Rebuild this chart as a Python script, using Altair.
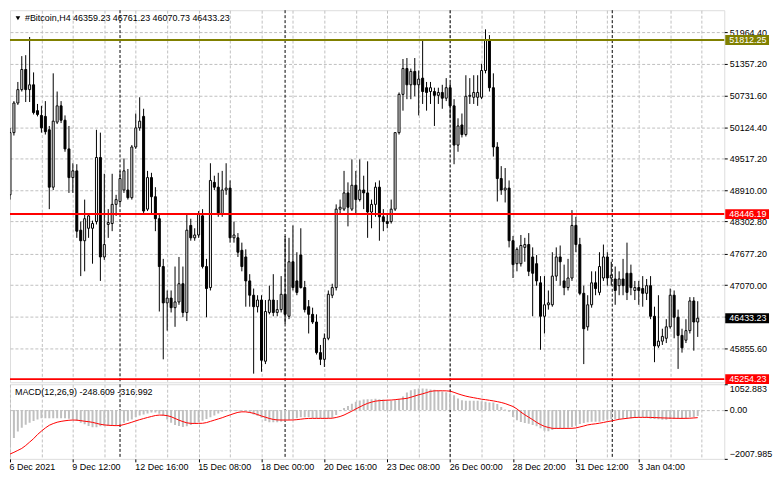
import altair as alt
import pandas as pd

# ---------------- data ----------------
opens = [
    48819, 50022, 50595, 50854, 51243, 50854, 50947, 50447, 50355, 50336,
    50077, 48967, 50225, 50540, 50262, 49707, 49152, 49282, 48135, 47931,
    48172, 48172, 48301, 49541, 47617, 48246, 48264, 48634, 48690, 48912,
    48912, 48764, 49744, 50114, 50336, 48542, 49152, 48782, 48357, 47432,
    46729, 46821, 46636, 46747, 47099, 46544, 48227, 47987, 48042, 48412,
    47432, 47025, 49060, 48967, 48449, 48912, 48949, 47987, 47987, 47746,
    47617, 47154, 46877, 46655, 46784, 45600, 46544, 46784, 46544, 46599,
    46895, 46470, 47524, 47154, 47654, 47025, 46655, 46507, 46359, 45767,
    45637, 46044, 46877, 47025, 48542, 48542, 48856, 48542, 49004, 48727,
    48912, 48856, 48486, 48634, 48967, 48394, 48301, 48301, 48542, 50022,
    50762, 51261, 50947, 51206, 50947, 51076, 50891, 50817, 50817, 50743,
    50799, 50688, 50891, 50540, 49781, 50170, 49985, 50725, 50706, 50706,
    50706, 51224, 51816, 50891, 49744, 49134, 48912, 48949, 47931, 47487,
    47487, 47802, 47857, 47617, 47487, 47117, 46470, 46692, 46692, 47247,
    47617, 47154, 47025, 47210, 48227, 47857, 46914, 46266, 46692, 47117,
    46932, 47210, 47617, 47210, 47191, 47062, 47191, 47302, 47302, 46969,
    47025, 47006, 46914, 47062, 46470, 45896, 45989, 46044, 46266, 46877,
    46451, 46100, 46007, 46192, 46766, 46359.23,
]
highs = [
    50114, 50632, 51002, 51502, 51520, 51872, 51187, 50577, 50540, 50632,
    50151, 51169, 50817, 50632, 50355, 50151, 49430, 49411, 48301, 48727,
    48449, 48320, 50077, 50022, 49226, 48542, 49226, 48819, 49282, 49522,
    49319, 49781, 50392, 50706, 50484, 49282, 49245, 48967, 48449, 47580,
    46969, 46969, 47432, 47617, 47432, 48449, 48357, 48172, 48505, 48542,
    47580, 49430, 49189, 49245, 49282, 49430, 49097, 48301, 48079, 47894,
    47765, 47284, 47006, 46877, 46877, 46784, 47062, 47284, 46784, 47247,
    48024, 47987, 48227, 47709, 48172, 47154, 46784, 46636, 46507, 45915,
    46137, 46969, 47099, 48634, 48727, 49282, 49060, 49504, 49282, 49504,
    49189, 49467, 48727, 49060, 49097, 48542, 48449, 48727, 50022, 50799,
    51446, 51465, 51261, 51465, 51224, 51816, 51002, 51002, 50891, 50891,
    50947, 51076, 50984, 50669, 50299, 50392, 51132, 51076, 51132, 51132,
    51354, 52020, 51909, 51169, 49837, 49374, 49337, 49097, 48024, 47802,
    48042, 47987, 48079, 47802, 47654, 47247, 47247, 46969, 47709, 47802,
    47839, 47469, 47580, 48523, 48394, 47987, 47062, 46877, 47339, 47339,
    47709, 47857, 47709, 47524, 47432, 47339, 47580, 47894, 47469, 47154,
    47154, 47247, 47191, 47247, 46655, 46877, 46229, 46414, 47006, 46969,
    46599, 46229, 46414, 46840, 46840, 46761.23,
]
lows = [
    48727, 49966, 50558, 50817, 50614, 50614, 50373, 50336, 50022, 49985,
    48542, 48912, 50188, 50207, 49652, 48856, 48856, 47987, 47247, 47339,
    47987, 47487, 48246, 47154, 47561, 47987, 48116, 48412, 48634, 48856,
    48727, 48727, 49707, 50059, 48468, 48505, 48449, 48116, 46562, 45637,
    46192, 46544, 46266, 46692, 46451, 46377, 47931, 47931, 47987, 47395,
    46451, 46969, 48912, 48394, 48394, 48819, 47894, 47894, 47617, 47339,
    46655, 46655, 45360, 46544, 45397, 45545, 46507, 46470, 46470, 46544,
    46322, 46414, 46969, 46877, 47006, 46544, 46137, 46322, 45730, 45526,
    45489, 46007, 46821, 46969, 48449, 48505, 48209, 48505, 48449, 48690,
    48542, 47987, 48172, 48394, 47931, 48116, 48172, 48264, 48505, 49985,
    50447, 50669, 50669, 50725, 50355, 50577, 50447, 50577, 50151, 50577,
    50484, 50632, 50299, 49411, 49652, 49929, 49948, 50577, 50577, 50540,
    50669, 51169, 50817, 49559, 48690, 48819, 48671, 47802, 47210, 47339,
    47432, 47524, 47247, 46470, 47062, 45822, 46137, 46599, 46655, 47154,
    47062, 46877, 46969, 47154, 47709, 46877, 45545, 46192, 46636, 46877,
    46877, 47154, 47062, 47062, 46692, 46877, 46877, 46784, 46877, 46784,
    46692, 46655, 46784, 46414, 45582, 45859, 45915, 45952, 46229, 46044,
    45452, 45767, 45952, 46137, 45804, 46070.73,
]
closes = [
    50022, 50595, 50854, 51243, 50854, 50947, 50410, 50373, 50114, 50040,
    48967, 50244, 50540, 50262, 49707, 49152, 49282, 48116, 47931, 48357,
    48412, 48264, 49541, 47617, 47857, 48283, 48634, 48727, 49134, 49282,
    48764, 49744, 50114, 50244, 48505, 49152, 48782, 48357, 47432, 46729,
    46821, 46636, 46747, 47099, 46544, 48135, 47987, 48042, 48449, 47432,
    47006, 49097, 48967, 48449, 48912, 48949, 47987, 48042, 47709, 47432,
    47154, 46877, 46655, 46784, 45619, 46562, 46784, 46544, 46599, 46895,
    46507, 47524, 47025, 46932, 47025, 46599, 46507, 46359, 45767, 45637,
    46044, 46895, 47025, 48542, 48579, 48856, 48579, 49004, 48727, 48912,
    48856, 48486, 48634, 48967, 48394, 48301, 48264, 48542, 50022, 50762,
    51261, 50947, 51206, 50947, 51058, 50817, 50799, 50891, 50743, 50799,
    50688, 50891, 50540, 49781, 50151, 49985, 50725, 50743, 50799, 50799,
    51224, 51816, 50891, 49744, 49134, 48912, 48949, 47931, 47469, 47765,
    47839, 47857, 47339, 47302, 47154, 46470, 46692, 46729, 47247, 47617,
    47524, 47025, 47210, 48227, 47857, 46914, 46229, 46692, 47117, 47006,
    47432, 47617, 47210, 47265, 46969, 47191, 47062, 46932, 47025, 47025,
    46969, 46914, 47062, 46470, 45896, 45989, 46081, 46266, 46877, 46451,
    46100, 45859, 46192, 46766, 46359, 46433.23,
]
macd_main = [
    -1530, -1150, -890, -730, -605, -525, -455, -390, -347, -347,
    -347, -347, -347, -347, -347, -360, -390, -455, -525, -590,
    -660, -714, -714, -673, -646, -646, -646, -619, -590, -525,
    -455, -390, -290, -225, -185, -143, -102, -102, -156, -238,
    -390, -525, -619, -660, -700, -673, -619, -578, -510, -442,
    -374, -306, -225, -143, -75, -34, -20, -20, -20, -20,
    -48, -116, -184, -252, -320, -455, -510, -510, -510, -483,
    -442, -401, -374, -347, -306, -306, -306, -333, -347, -347,
    -360, -347, -320, -211, -20, 75, 156, 252, 333, 388,
    428, 442, 442, 456, 442, 430, 400, 380, 400, 442,
    551, 714, 809, 850, 877, 877, 864, 836, 823, 796,
    755, 728, 687, 605, 469, 401, 374, 374, 374, 374,
    360, 333, 306, 306, 238, 116, 20, -75, -292, -428,
    -496, -537, -564, -619, -673, -755, -850, -877, -823, -768,
    -755, -741, -728, -700, -646, -578, -537, -510, -483, -483,
    -483, -442, -401, -374, -374, -374, -347, -347, -347, -320,
    -306, -306, -333, -360, -374, -388, -401, -401, -374, -374,
    -347, -347, -347, -306, -306, -248.609,
]
macd_signal = [
    -1810, -1740, -1660, -1580, -1460, -1320, -1180, -1010, -870, -740,
    -630, -560, -505, -470, -445, -425, -415, -420, -440, -465,
    -483, -510, -550, -590, -615, -630, -640, -645, -640, -600,
    -555, -505, -450, -400, -355, -310, -270, -230, -212, -215,
    -235, -280, -350, -420, -480, -530, -552, -555, -552, -548,
    -520, -470, -420, -370, -320, -260, -205, -150, -100, -78,
    -80, -105, -140, -190, -250, -300, -350, -390, -410, -415,
    -415, -415, -412, -400, -380, -360, -350, -347, -347, -347,
    -347, -345, -340, -310, -270, -210, -130, -50, 40, 120,
    200, 270, 320, 360, 380, 390, 400, 405, 420, 440,
    455, 475, 520, 570, 620, 660, 710, 760, 782, 785,
    785, 782, 770, 720, 660, 610, 565, 530, 500, 470,
    440, 420, 395, 370, 340, 305, 260, 200, 140, 40,
    -90, -200, -300, -400, -510, -600, -675, -720, -755, -758,
    -758, -758, -757, -755, -740, -700, -660, -615, -590, -570,
    -545, -515, -480, -455, -420, -385, -365, -345, -325, -310,
    -306, -306, -306, -308, -315, -320, -328, -333, -338, -342,
    -347, -347, -345, -340, -330, -316.992,
]

price_ticks = [51964.40, 51357.20, 50731.60, 50124.40, 49517.20, 48910.00,
               48302.80, 47677.20, 47070.00, 46462.80, 45855.60]
macd_ticks = [1052.883, 0.0, -2007.985]
time_labels = ["6 Dec 2021", "9 Dec 12:00", "12 Dec 16:00", "15 Dec 08:00",
               "18 Dec 00:00", "20 Dec 16:00", "23 Dec 08:00", "26 Dec 00:00",
               "28 Dec 20:00", "31 Dec 12:00", "3 Jan 04:00"]
separator_bars = [28, 70, 112, 153.25]
level_prices = [51812.25, 48446.19, 45254.23]
level_colors = ["#808000", "#ff0000", "#ff0000"]
last_price = 46433.23
title_text = "#Bitcoin,H4  46359.23 46761.23 46070.73 46433.23"
macd_text = "MACD(12,26,9) -248.609 -316.992"

# ---------------- layout ----------------
W, H_MAIN, H_MACD = 718, 374, 75
FONT = "Liberation Sans"
FS = 9
GRID = "#c0c0c0"
X_DOMAIN = [0, 181.75]
Y_DOMAIN = [45193.5, 52390.0]
MACD_DOMAIN = [-2007.985, 1052.883]

n = len(closes)
bars = list(range(n))
candles = pd.DataFrame({"bar": bars, "open": opens, "high": highs,
                        "low": lows, "close": closes})
candles["body"] = ["white" if c >= o else "black" for o, c in zip(opens, closes)]
macd_df = pd.DataFrame({"bar": bars, "main": macd_main, "signal": macd_signal})
sep_df = pd.DataFrame({"bar": separator_bars})
levels_df = pd.DataFrame({"price": level_prices, "color": level_colors})
boxes_df = pd.DataFrame({
    "price": level_prices + [last_price],
    "color": level_colors + ["#000000"],
    "label": [f"{p:.2f}" for p in level_prices + [last_price]],
})
last_df = pd.DataFrame({"price": [last_price]})
text_df = pd.DataFrame({"t": [title_text]})
macd_text_df = pd.DataFrame({"t": [macd_text]})

grid_bars = [8 * k for k in range(1, 23)]
xs = alt.Scale(domain=X_DOMAIN, nice=False, zero=False, padding=0)
ys = alt.Scale(domain=Y_DOMAIN, nice=False, zero=False, padding=0)
ms = alt.Scale(domain=MACD_DOMAIN, nice=False, zero=False, padding=0)

x_main = alt.X("bar:Q", scale=xs, title=None,
               axis=alt.Axis(values=grid_bars, labels=False, ticks=False,
                             domain=False, grid=True, gridColor=GRID,
                             gridDash=[3, 2], title=None))
y_axis = alt.Axis(orient="right", values=price_ticks, format=".2f", grid=True,
                  gridColor=GRID, gridDash=[3, 2], domain=False, tickSize=3,
                  tickColor="black", labelPadding=2, labelFont=FONT,
                  labelFontSize=FS, labelColor="black", title=None,
                  labelOverlap=False)


def Yp(field):
    return alt.Y(field, scale=ys, axis=y_axis, title=None)


last_line = alt.Chart(last_df).mark_rule(color=GRID, strokeWidth=1).encode(
    x=x_main, y=Yp("price:Q"))
seps_main = alt.Chart(sep_df).mark_rule(color="black", strokeWidth=1,
                                         strokeDash=[3, 2]).encode(x=x_main)
wicks = alt.Chart(candles).mark_rule(color="black", strokeWidth=1, clip=True).encode(
    x=x_main, y=Yp("low:Q"), y2="high:Q")
bodies = alt.Chart(candles).mark_bar(size=2, stroke="black", strokeWidth=1,
                                     clip=True).encode(
    x=x_main, y=Yp("open:Q"), y2="close:Q",
    fill=alt.Fill("body:N", scale=None))
level_rules = alt.Chart(levels_df).mark_rule(strokeWidth=2).encode(
    y=Yp("price:Q"), color=alt.Color("color:N", scale=None))
boxes = alt.Chart(boxes_df).mark_rect(yOffset=-5, y2Offset=5).encode(
    x=alt.value(W + 1), x2=alt.value(W + 45), y=Yp("price:Q"), y2="price:Q",
    color=alt.Color("color:N", scale=None))
box_text = alt.Chart(boxes_df).mark_text(
    align="left", baseline="middle", color="white", font=FONT, fontSize=FS
).encode(x=alt.value(W + 5), y=Yp("price:Q"), text="label:N")
tri = alt.Chart(text_df).mark_point(shape="triangle-down", filled=True,
                                    color="black", size=22, opacity=1).encode(
    x=alt.value(8), y=alt.value(8))
title_mark = alt.Chart(text_df).mark_text(
    align="left", baseline="middle", font=FONT, fontSize=FS, color="black"
).encode(x=alt.value(15), y=alt.value(8), text="t:N")

main = alt.layer(last_line, seps_main, wicks, bodies, level_rules, boxes,
                 box_text, tri, title_mark).properties(width=W, height=H_MAIN)

# ---------------- MACD panel ----------------
lab_arr = "[" + ",".join("'" + s + "'" for s in time_labels) + "]"
label_expr = (f"datum.value % 16 == 0 && datum.value / 16 < {len(time_labels)} "
              f"? {lab_arr}[datum.value / 16] : ''")
tick_test = f"datum.value % 16 == 0 && datum.value / 16 < {len(time_labels)}"
x_macd = alt.X("bar:Q", scale=xs, title=None,
               axis=alt.Axis(values=[0] + grid_bars, labelExpr=label_expr,
                             labelAlign="left", labelPadding=1, labelOffset=-1,
                             labelFont=FONT, labelFontSize=FS,
                             labelColor="black", labelOverlap=False,
                             labelFlush=False, tickSize=3, tickColor="black",
                             tickOpacity={"condition": {"test": tick_test, "value": 1},
                                          "value": 0},
                             grid=True, gridColor=GRID, gridDash=[3, 2],
                             domain=False, title=None))
macd_axis = alt.Axis(orient="right", values=macd_ticks,
                     labelExpr="datum.value == 0 ? '0.00' : format(datum.value, '.3f')",
                     labelFlush=True, grid=True, gridColor=GRID, gridDash=[3, 2],
                     gridOpacity={"condition": {"test": "datum.value == 0", "value": 1},
                                  "value": 0},
                     domain=False, tickSize=3, tickColor="black", labelPadding=2,
                     labelFont=FONT, labelFontSize=FS, labelColor="black",
                     title=None, labelOverlap=False)


def Ym(field):
    return alt.Y(field, scale=ms, axis=macd_axis, title=None)


hist = alt.Chart(macd_df).mark_bar(size=2, color=GRID, clip=True).encode(
    x=x_macd, y=Ym("main:Q"), y2=alt.datum(0))
signal = alt.Chart(macd_df).mark_line(color="#ff0000", strokeWidth=1,
                                      clip=True).encode(x=x_macd, y=Ym("signal:Q"))
seps_macd = alt.Chart(sep_df).mark_rule(color="black", strokeWidth=1,
                                         strokeDash=[3, 2]).encode(x=x_macd)
macd_title = alt.Chart(macd_text_df).mark_text(
    align="left", baseline="middle", font=FONT, fontSize=FS, color="black"
).encode(x=alt.value(5), y=alt.value(8), text="t:N")

macd = alt.layer(seps_macd, hist, signal, macd_title).properties(
    width=W, height=H_MACD)

chart = alt.vconcat(main, macd, spacing=2, bounds="flush", padding=0).configure_view(
    stroke="black", strokeWidth=1, fill="white"
).configure(background="white")

chart.save("out.html", embed_options={"renderer": "svg", "actions": False})
